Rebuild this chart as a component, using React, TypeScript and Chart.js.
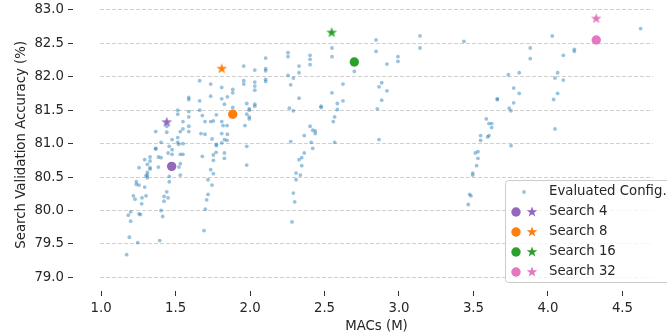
import { useEffect, useRef } from 'react';
import { Chart, registerables } from 'chart.js';

Chart.register(...registerables);

const evalMacs = [
  2.105, 1.958, 2.032, 2.105, 2.105, 1.662, 1.958, 1.958, 2.032, 2.105,
  2.105, 1.736, 2.032, 1.884, 2.032, 1.810, 1.884, 1.736, 1.589, 1.589,
  1.662, 1.810, 1.848, 1.828, 1.978, 2.032, 2.032, 1.884, 1.515, 1.589,
  1.662, 1.995, 1.995, 1.515, 1.680, 1.774, 1.978, 1.995, 1.995, 1.589,
  1.550, 1.698, 1.736, 1.754, 1.810, 1.441, 1.589, 1.819, 1.846, 1.966,
  1.550, 1.532, 1.589, 1.367, 1.441, 1.671, 1.698, 1.810, 1.848, 1.515,
  1.477, 1.745, 1.828, 1.846, 1.403, 1.515, 1.521, 1.550, 1.774, 1.774,
  1.810, 1.367, 1.367, 1.458, 1.477, 1.978, 1.450, 1.477, 1.532, 1.550,
  1.772, 1.828, 1.754, 1.329, 1.385, 1.403, 1.680, 1.293, 1.329, 1.828,
  1.754, 1.311, 1.532, 1.255, 1.329, 1.329, 1.385, 1.523, 1.736, 1.978,
  1.311, 1.311, 1.302, 1.311, 1.458, 1.458, 1.532, 1.237, 1.237, 1.255,
  1.293, 1.754, 1.718, 1.745, 1.217, 1.228, 1.275, 1.302, 1.441, 1.423,
  1.450, 1.423, 1.273, 1.718, 1.709, 1.199, 1.183, 1.255, 1.264, 1.403,
  1.414, 1.199, 1.700, 1.691, 1.190, 1.246, 1.394, 1.172,
  2.846, 3.141, 2.550, 3.141, 2.846, 2.255, 2.255, 2.403, 2.403, 2.403,
  2.550, 2.329, 2.329, 2.993, 2.993, 2.919, 2.700, 2.255, 2.291, 2.273,
  2.884, 2.866, 2.624, 2.919, 2.550, 2.329, 2.884, 2.624, 2.586, 2.477,
  2.477, 2.264, 2.291, 2.586, 2.854, 2.568, 2.559, 2.403, 2.421, 2.438,
  2.438, 2.364, 2.273, 2.411, 2.568, 2.866, 2.421, 2.364, 2.329, 2.347,
  2.347, 2.309, 2.338, 2.309, 2.291, 2.300, 2.282,
  3.436, 4.029, 4.622, 3.881, 3.881, 4.103, 4.177, 4.177, 3.734, 3.807,
  4.065, 4.047, 4.103, 3.770, 3.807, 4.065, 3.660, 3.660, 4.038, 3.770,
  3.740, 3.752, 3.586, 3.604, 3.622, 3.622, 4.047, 3.548, 3.548, 3.595,
  3.604, 3.752, 3.512, 3.530, 3.530, 3.521, 3.495, 3.495, 3.474, 3.483,
  3.465,
];

const evalAcc = [
  82.28, 82.16, 82.10, 82.12, 82.09, 81.94, 81.94, 81.89, 81.92, 81.96,
  81.93, 81.89, 81.86, 81.81, 81.80, 81.84, 81.76, 81.71, 81.69, 81.66,
  81.64, 81.67, 81.70, 81.59, 81.60, 81.59, 81.56, 81.54, 81.50, 81.48,
  81.50, 81.52, 81.50, 81.44, 81.42, 81.43, 81.44, 81.40, 81.37, 81.40,
  81.33, 81.33, 81.33, 81.34, 81.33, 81.26, 81.26, 81.27, 81.27, 81.27,
  81.22, 81.18, 81.18, 81.18, 81.17, 81.15, 81.14, 81.15, 81.14, 81.09,
  81.06, 81.07, 81.06, 81.05, 81.02, 81.02, 80.99, 81.00, 80.99, 80.97,
  81.01, 80.93, 80.92, 80.96, 80.91, 80.96, 80.86, 80.84, 80.84, 80.84,
  80.87, 80.86, 80.83, 80.80, 80.80, 80.79, 80.81, 80.76, 80.74, 80.78,
  80.75, 80.69, 80.70, 80.64, 80.64, 80.62, 80.65, 80.65, 80.61, 80.68,
  80.57, 80.53, 80.52, 80.49, 80.51, 80.43, 80.53, 80.43, 80.39, 80.38,
  80.35, 80.55, 80.46, 80.38, 80.22, 80.17, 80.19, 80.22, 80.28, 80.21,
  80.19, 80.14, 80.10, 80.24, 80.16, 79.98, 79.93, 79.95, 79.94, 80.00,
  79.91, 79.84, 80.02, 79.70, 79.60, 79.52, 79.55, 79.34,
  82.55, 82.61, 82.43, 82.43, 82.38, 82.36, 82.30, 82.32, 82.26, 82.18,
  82.30, 82.16, 82.06, 82.30, 82.23, 82.19, 82.08, 82.02, 81.98, 81.88,
  81.91, 81.85, 81.89, 81.79, 81.76, 81.68, 81.65, 81.64, 81.60, 81.56,
  81.54, 81.53, 81.49, 81.51, 81.52, 81.40, 81.33, 81.26, 81.20, 81.19,
  81.15, 81.12, 81.03, 81.02, 81.02, 81.06, 80.93, 80.86, 80.76, 80.79,
  80.67, 80.56, 80.53, 80.46, 80.26, 80.13, 79.83,
  82.53, 82.61, 82.72, 82.43, 82.27, 82.32, 82.41, 82.38, 82.03, 82.06,
  82.06, 81.98, 81.95, 81.83, 81.75, 81.75, 81.67, 81.66, 81.66, 81.61,
  81.53, 81.49, 81.37, 81.30, 81.30, 81.24, 81.22, 81.12, 81.05, 81.10,
  81.12, 80.97, 80.86, 80.88, 80.78, 80.67, 80.56, 80.53, 80.24, 80.22,
  80.09,
];

const searchLabels = ['Search 4', 'Search 8', 'Search 16', 'Search 32'];
const finalMacs = [1.474, 1.884, 2.7, 4.324];
const finalAcc = [80.66, 81.44, 82.22, 82.55];
const bestMacs = [1.441, 1.81, 2.548, 4.324];
const bestAcc = [81.32, 82.12, 82.66, 82.87];

const xTicks = [1.0, 1.5, 2.0, 2.5, 3.0, 3.5, 4.0, 4.5];
const yTicks = [79.0, 79.5, 80.0, 80.5, 81.0, 81.5, 82.0, 82.5, 83.0];

const xTitle = 'MACs (M)';
const yTitle = 'Search Validation Accuracy (%)';
const evalLabel = 'Evaluated Config.';

const searchColors = ['#9467bd', '#ff7f0e', '#2ca02c', '#e377c2'];
const evalColor = 'rgba(31,119,180,0.45)';
const FONT = '"DejaVu Sans", sans-serif';
const TEXT = '#262626';
const FS = 13.3;
const CIRCLE_R = 4.7;
const STAR_R = 5.6;
const DOT_R = 1.9;

function makeStar(color: string, R: number): HTMLCanvasElement {
  const size = Math.ceil(R * 2 + 2);
  const c = document.createElement('canvas');
  c.width = size;
  c.height = size;
  const ctx = c.getContext('2d')!;
  const cx = size / 2;
  const cy = size / 2;
  const r = R * 0.4;
  ctx.beginPath();
  for (let i = 0; i < 10; i++) {
    const a = -Math.PI / 2 + (i * Math.PI) / 5;
    const rad = i % 2 === 0 ? R : r;
    const x = cx + rad * Math.cos(a);
    const y = cy + rad * Math.sin(a);
    if (i === 0) ctx.moveTo(x, y);
    else ctx.lineTo(x, y);
  }
  ctx.closePath();
  ctx.fillStyle = color;
  ctx.fill();
  return c;
}

export default function App() {
  const ref = useRef<HTMLCanvasElement | null>(null);

  useEffect(() => {
    if (!ref.current) return;
    const stars = searchColors.map((c) => makeStar(c, STAR_R));

    const legendPlugin = {
      id: 'customLegend',
      afterDraw(chart: any) {
        const ctx = chart.ctx as CanvasRenderingContext2D;
        ctx.save();
        const bx = 505.5, by = 180.5, bw = 220, bh = 102;
        ctx.beginPath();
        (ctx as any).roundRect(bx, by, bw, bh, 3);
        ctx.fillStyle = 'rgba(255,255,255,0.8)';
        ctx.fill();
        ctx.strokeStyle = '#cccccc';
        ctx.lineWidth = 1;
        ctx.stroke();
        ctx.font = `${FS}px ${FONT}`;
        ctx.textAlign = 'left';
        ctx.textBaseline = 'middle';
        const textX = 549;
        const rowY = [192, 212, 232, 252, 272];
        ctx.beginPath();
        ctx.arc(524, rowY[0], DOT_R, 0, Math.PI * 2);
        ctx.fillStyle = evalColor;
        ctx.fill();
        ctx.fillStyle = TEXT;
        ctx.fillText(evalLabel, textX, rowY[0]);
        searchLabels.forEach((lab, i) => {
          const y = rowY[i + 1];
          ctx.beginPath();
          ctx.arc(516, y, CIRCLE_R, 0, Math.PI * 2);
          ctx.fillStyle = searchColors[i];
          ctx.fill();
          const s = stars[i];
          ctx.drawImage(s, 532 - s.width / 2, y - s.height / 2);
          ctx.fillStyle = TEXT;
          ctx.fillText(lab, textX, y);
        });
        ctx.restore();
      },
    };

    const datasets: any[] = [
      {
        label: evalLabel,
        data: evalMacs.map((x, i) => ({ x, y: evalAcc[i] })),
        backgroundColor: evalColor,
        borderWidth: 0,
        pointRadius: DOT_R,
        order: 10,
      },
    ];
    searchLabels.forEach((lab, i) => {
      datasets.push({
        label: lab + ' final',
        data: [{ x: finalMacs[i], y: finalAcc[i] }],
        backgroundColor: searchColors[i],
        borderWidth: 0,
        pointRadius: CIRCLE_R,
        order: 1,
      });
      datasets.push({
        label: lab + ' best',
        data: [{ x: bestMacs[i], y: bestAcc[i] }],
        pointStyle: stars[i],
        pointRadius: STAR_R,
        order: 0,
      });
    });

    const chart = new Chart(ref.current, {
      type: 'scatter',
      data: { datasets },
      options: {
        animation: false,
        responsive: true,
        maintainAspectRatio: false,
        events: [],
        layout: { padding: { top: 4, right: 14, left: 0, bottom: 0 } },
        plugins: { legend: { display: false }, tooltip: { enabled: false } },
        scales: {
          x: {
            type: 'linear',
            min: 0.993,
            max: 4.705,
            afterFit: (s: any) => {
              s.height = 53;
              s.paddingLeft = 0;
              s.paddingRight = 0;
              s.paddingTop = 0;
              s.paddingBottom = 0;
            },
            afterBuildTicks: (s: any) => { s.ticks = xTicks.map((v) => ({ value: v })); },
            ticks: {
              autoSkip: false,
              maxRotation: 0,
              color: TEXT,
              padding: 5,
              font: { family: FONT, size: FS },
              callback: (v: any) => Number(v).toFixed(1),
            },
            grid: {
              display: true,
              drawOnChartArea: false,
              drawTicks: true,
              tickLength: 13,
              tickColor: '#333333',
              tickWidth: 1,
              tickBorderDash: [5, 8],
              tickBorderDashOffset: 5,
            },
            border: { display: false },
            title: {
              display: true,
              text: xTitle,
              color: TEXT,
              font: { family: FONT, size: FS },
              padding: { top: 0, bottom: 1 },
            },
          },
          y: {
            type: 'linear',
            min: 78.916,
            max: 83.049,
            afterFit: (s: any) => {
              s.width = 100;
              s.paddingLeft = 0;
              s.paddingRight = 0;
              s.paddingTop = 0;
              s.paddingBottom = 0;
            },
            afterBuildTicks: (s: any) => { s.ticks = yTicks.map((v) => ({ value: v })); },
            ticks: {
              color: TEXT,
              padding: 4,
              font: { family: FONT, size: FS },
              callback: (v: any) => Number(v).toFixed(1),
            },
            grid: {
              color: '#c4c4c4',
              lineWidth: 0.8,
              drawTicks: true,
              tickLength: 32,
              tickColor: '#333333',
              tickWidth: 1,
              tickBorderDash: [5, 100],
              tickBorderDashOffset: 0,
            },
            border: { display: false, dash: [4, 2] },
            title: {
              display: true,
              text: yTitle,
              color: TEXT,
              font: { family: FONT, size: FS },
              padding: { top: 14, bottom: 0 },
            },
          },
        },
      },
      plugins: [legendPlugin],
    } as any);

    return () => chart.destroy();
  }, []);

  return (
    <div style={{ position: 'fixed', left: 0, top: 0, width: 667, height: 336, background: '#fff' }}>
      <canvas ref={ref} />
    </div>
  );
}
